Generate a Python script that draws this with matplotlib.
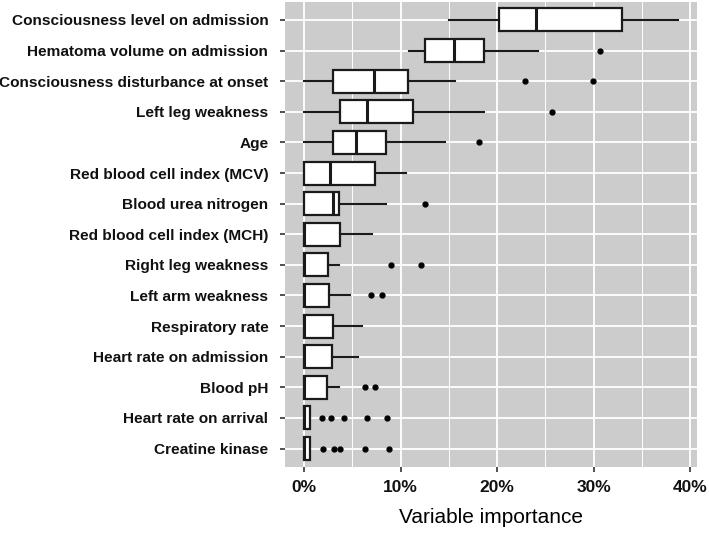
import matplotlib.pyplot as plt
from matplotlib.ticker import FuncFormatter, MultipleLocator

labels = ['Consciousness level on admission', 'Hematoma volume on admission',
          'Consciousness disturbance at onset', 'Left leg weakness', 'Age',
          'Red blood cell index (MCV)', 'Blood urea nitrogen',
          'Red blood cell index (MCH)', 'Right leg weakness', 'Left arm weakness',
          'Respiratory rate', 'Heart rate on admission', 'Blood pH',
          'Heart rate on arrival', 'Creatine kinase']

# variable importance (%)
whislo = [15.0, 10.9, 0.0, 0.0, 0.0, 0.0, 0.0, 0.0, 0.0, 0.0, 0.0, 0.0, 0.0, 0.0, 0.0]
q1 = [20.2, 12.5, 3.0, 3.7, 3.0, 0.0, 0.0, 0.0, 0.0, 0.0, 0.0, 0.0, 0.0, 0.0, 0.0]
med = [24.0, 15.5, 7.2, 6.5, 5.4, 2.7, 3.0, 0.0, 0.0, 0.0, 0.0, 0.0, 0.0, 0.0, 0.0]
q3 = [32.9, 18.6, 10.8, 11.3, 8.5, 7.4, 3.6, 3.7, 2.5, 2.6, 3.0, 2.9, 2.4, 0.6, 0.6]
whishi = [38.7, 24.2, 15.6, 18.6, 14.6, 10.6, 8.5, 7.0, 3.6, 4.8, 6.0, 5.6, 3.6, 0.6, 0.6]
fliers = [[], [30.7], [22.9, 29.9], [25.7], [18.1], [], [12.5], [],
          [9.0, 12.1], [6.9, 8.1], [], [], [6.3, 7.3],
          [1.9, 2.8, 4.1, 6.5, 8.6], [2.0, 3.1, 3.7, 6.3, 8.8]]

stats = []
for i in range(len(labels)):
    stats.append({'whislo': whislo[i], 'q1': q1[i], 'med': med[i],
                  'q3': q3[i], 'whishi': whishi[i], 'fliers': fliers[i]})

fig = plt.figure(figsize=(7.09, 5.33), dpi=100)
ax = fig.add_axes([0.402, 0.124, 0.581, 0.873])
ax.set_facecolor('#cccccc')

pos = list(range(len(labels), 0, -1))
ax.bxp(stats, positions=pos, vert=False, widths=0.75, patch_artist=True,
       showcaps=False,
       boxprops=dict(facecolor='white', edgecolor='#1a1a1a', linewidth=1.6),
       medianprops=dict(color='#1a1a1a', linewidth=2.2),
       whiskerprops=dict(color='#1a1a1a', linewidth=1.5),
       flierprops=dict(marker='o', markerfacecolor='black', markeredgecolor='black',
                       markersize=3.5))

ax.set_xlim(-1.97, 40.7)
ax.set_ylim(0.4, len(labels) + 0.6)
ax.set_yticks(pos)
ax.set_yticklabels(labels, fontsize=11.1, fontweight='bold', color='#111111',
                   family='Liberation Sans')
ax.xaxis.set_major_locator(MultipleLocator(10))
ax.xaxis.set_minor_locator(MultipleLocator(5))
ax.xaxis.set_major_formatter(FuncFormatter(lambda v, p: f'{v:.0f}%'))
for t in ax.get_xticklabels():
    t.set_fontweight('bold')
    t.set_fontsize(12.5)
    t.set_family('Liberation Sans')
    t.set_color('#111111')
ax.tick_params(axis='both', which='major', length=3.5, width=1.2, color='#333333')
ax.tick_params(axis='x', which='minor', length=0)
ax.tick_params(axis='x', pad=6)
ax.tick_params(axis='y', pad=8.5)
ax.grid(True, which='major', color='white', linewidth=1.3)
ax.grid(True, which='minor', axis='x', color='white', linewidth=0.7)
ax.set_axisbelow(True)
for s in ax.spines.values():
    s.set_visible(False)

ax.set_xlabel('Variable importance', fontsize=15, family='Liberation Sans', labelpad=9)

fig.savefig('out.png', dpi=100)
